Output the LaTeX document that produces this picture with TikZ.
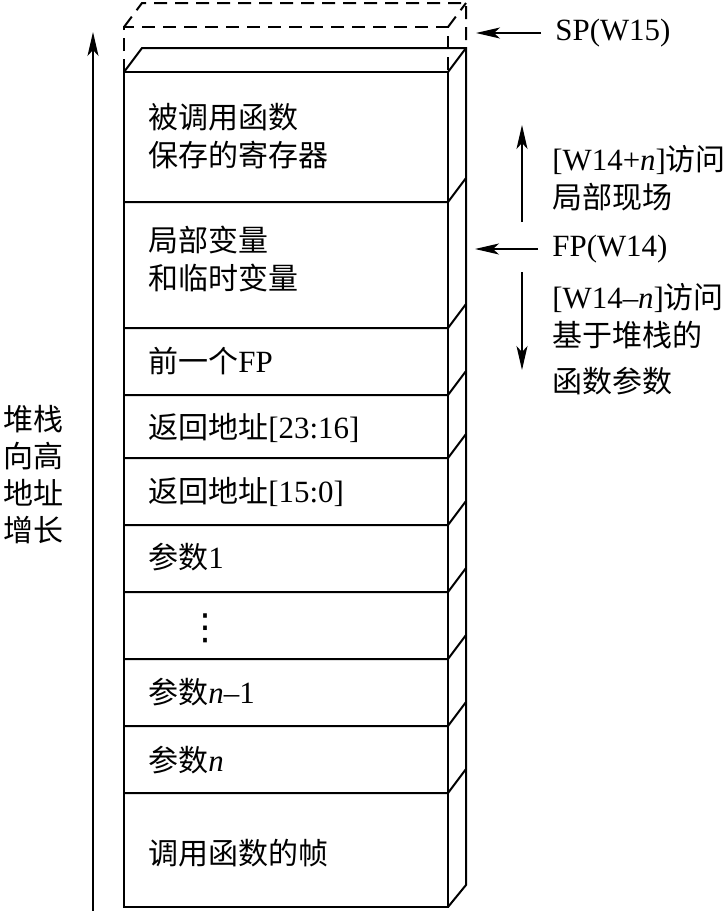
\documentclass[tikz,border=0pt]{standalone}
\usepackage{fontspec}
\setmainfont[Scale=1.03]{Liberation Serif}
\newfontfamily\cjk{Noto Sans CJK SC}
\newfontfamily\dotfont{DejaVu Sans}
\newcommand\rmtxt[1]{{\rmfamily #1}}
\usetikzlibrary{arrows.meta}
\tikzset{
  frame/.style={line width=1pt},
  ghost/.style={line width=1pt, dash pattern=on 6.5pt off 4pt},
  label/.style={anchor=west, inner sep=0pt, align=left,
    font=\cjk\fontsize{15pt}{19pt}\selectfont},
  pointer/.style={line width=0.65pt, -{Stealth[length=12pt, width=5.5pt, inset=3pt]}}
}
\begin{document}
\begin{tikzpicture}[x=0.5pt, y=-0.5pt]
    \useasboundingbox (0,0) rectangle (725,911);
    % pushed word (dashed)
    \draw[ghost] (124,72) -- (124,27) -- (448,27) -- (448,72);
    \draw[ghost] (124,27) -- (142,3) -- (466,3) -- (466,48);
    \draw[ghost] (448,27) -- (466,3);
    % stack body
    \draw[frame] (124,72) rectangle (448,907);
    \draw[frame] (124,72) -- (142,48) -- (466,48) -- (466,885) -- (448,907);
    \draw[frame] (448,72) -- (466,48);
    \foreach \y in {202,328,395,458,525,592,659,726,793}
        \draw[frame] (124,\y) -- (448,\y) -- (466,\y-24);
    % frame contents
    \node[label] (saved)  at (148,136) {被调用函数\\保存的寄存器};
    \node[label] (locals) at (148,259) {局部变量\\和临时变量};
    \node[label] (prevfp) at (148,361) {前一个\rmtxt{FP}};
    \node[label] (rethi)  at (148,428) {返回地址\rmtxt{[23:16]}};
    \node[label] (retlo)  at (148,492) {返回地址\rmtxt{[15:0]}};
    \node[label] (argone) at (148,557) {参数\rmtxt{1}};
    \node[inner sep=0pt, font=\dotfont\fontsize{18pt}{22pt}\selectfont] (dots) at (205,628) {⋮};
    \node[label] (argnm)  at (148,692) {参数\rmtxt{\textit{n}--1}};
    \node[label] (argn)   at (148,760) {参数\rmtxt{\textit{n}}};
    \node[label] (caller) at (148,853) {调用函数的帧};
    % growth direction
    \node[label, font=\cjk\fontsize{15pt}{18.5pt}\selectfont] (grow) at (3,475) {堆栈\\向高\\地址\\增长};
    \coordinate (gbot) at (93,911);
    \coordinate (gtop) at (93,32);
    \draw[pointer] (gbot) -- (gtop);
    % pointers
    \node[label] (sp) at (555,33) {\rmtxt{SP(W15)}};
    \coordinate (sptip) at (476,33);
    \draw[pointer, shorten <=7pt] (sp.west) -- (sptip);
    \node[label] (fp) at (552,249) {\rmtxt{FP(W14)}};
    \coordinate (fptip) at (475,249);
    \draw[pointer, shorten <=7pt] (fp.west) -- (fptip);
    \node[label] (upacc) at (552,178) {\rmtxt{[W14+\textit{n}]}访问\\局部现场};
    \node[label] (dnacc) at (552,316.5) {\rmtxt{[W14--\textit{n}]}访问\\基于堆栈的};
    \node[label] (params) at (552,381) {函数参数};
    \coordinate (upbase) at (522,222);
    \coordinate (uptip) at (522,125);
    \coordinate (dnbase) at (522,272);
    \coordinate (dntip) at (522,370);
    \draw[pointer] (upbase) -- (uptip);
    \draw[pointer] (dnbase) -- (dntip);
\end{tikzpicture}
\end{document}
